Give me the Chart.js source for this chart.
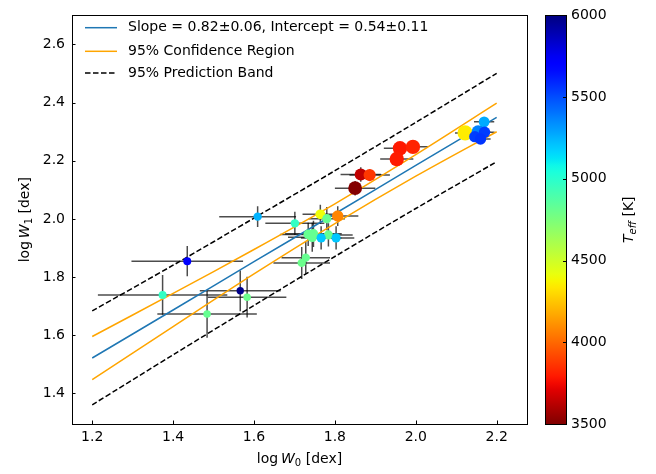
<!DOCTYPE html>
<html><head><meta charset="utf-8">
<script src="https://cdn.jsdelivr.net/npm/chart.js@4.4.1/dist/chart.umd.min.js"></script>
<style>html,body{margin:0;padding:0;background:#fff;}#wrap{width:656px;height:474px;}</style>
</head><body><div id="wrap"><canvas id="c" width="656" height="474"></canvas></div>
<script>
// ---- data ----
const logW0 = [1.435,1.374,1.484,1.566,1.583,1.609,1.701,1.764,1.780,1.807,1.734,1.747,1.744,1.784,1.766,1.803,1.728,1.718,1.961,1.993,1.953,1.864,1.886,1.850,2.122,2.169,2.154,2.170,2.146,2.160];
const logW1 = [1.855,1.739,1.673,1.753,1.731,2.008,1.985,2.016,2.001,2.010,1.947,1.949,1.937,1.945,1.935,1.935,1.867,1.849,2.243,2.248,2.206,2.153,2.151,2.106,2.296,2.334,2.300,2.298,2.283,2.275];
const errW0 = [0.138,0.160,0.123,0.100,0.097,0.095,0.073,0.044,0.045,0.051,0.070,0.070,0.060,0.060,0.050,0.045,0.060,0.070,0.040,0.037,0.041,0.050,0.050,0.050,0.025,0.025,0.030,0.025,0.025,0.025];
const errW1 = [0.052,0.068,0.081,0.070,0.070,0.036,0.040,0.033,0.040,0.034,0.040,0.045,0.050,0.040,0.040,0.040,0.055,0.055,0.018,0.018,0.018,0.025,0.020,0.025,0.015,0.015,0.015,0.015,0.015,0.015];
const teff  = [5710,4970,4815,5980,4800,5250,4970,4400,4815,4075,4815,4815,4815,4815,5200,5200,4815,4800,3790,3820,3800,3640,3870,3510,4350,5270,5370,5540,5540,5560];
const markerSize = [4.0,4.0,3.8,3.7,3.8,4.2,4.2,4.9,4.6,5.7,4.8,4.8,4.8,4.6,4.6,4.6,4.2,4.2,7.2,7.2,7.2,6.1,6.1,6.9,7.6,5.4,6.5,5.7,5.7,5.7];

const lineX     = [1.2,1.4,1.6,1.8,2.0,2.2];
const fitY      = [1.522,1.687,1.853,2.018,2.184,2.349];
const confUpper = [1.596,1.744,1.895,2.052,2.221,2.398];
const confLower = [1.448,1.630,1.811,1.984,2.147,2.300];
const predUpper = [1.684,1.841,2.003,2.166,2.332,2.501];
const predLower = [1.361,1.533,1.703,1.871,2.036,2.197];

const xTicks  = [1.2,1.4,1.6,1.8,2.0,2.2];
const yTicks  = [1.4,1.6,1.8,2.0,2.2,2.4,2.6];
const cbTicks = [3500,4000,4500,5000,5500,6000];
const cbMin = 3500, cbMax = 6000;
const legendLabels = ['Slope = 0.82\u00b10.06, Intercept = 0.54\u00b10.11','95% Confidence Region','95% Prediction Band'];

// ---- colormap (matplotlib jet, reversed) ----
const JET = {
  r:[[0,0],[0.35,0],[0.66,1],[0.89,1],[1,0.5]],
  g:[[0,0],[0.125,0],[0.375,1],[0.64,1],[0.91,0],[1,0]],
  b:[[0,0.5],[0.11,1],[0.34,1],[0.65,0],[1,0]]
};
function seg(arr,t){for(let i=1;i<arr.length;i++){if(t<=arr[i][0]){const a=arr[i-1],b=arr[i];return a[1]+(b[1]-a[1])*(t-a[0])/(b[0]-a[0]);}}return arr[arr.length-1][1];}
function jetR(T){let s=(cbMax-T)/(cbMax-cbMin);s=Math.max(0,Math.min(1,s));
  return 'rgb('+Math.round(255*seg(JET.r,s))+','+Math.round(255*seg(JET.g,s))+','+Math.round(255*seg(JET.b,s))+')';}

const FONT='DejaVu Sans';
const pts = logW0.map((x,i)=>({x, y:logW1[i]}));
const toXY = arr => lineX.map((x,i)=>({x, y:arr[i]}));

function drawRich(ctx, parts, x, y, rot){
  ctx.save(); ctx.translate(x,y); ctx.rotate(rot||0);
  ctx.textBaseline='middle'; ctx.fillStyle='#000';
  let total=0; const ws=[];
  parts.forEach(p=>{ctx.font=p.font; const w=ctx.measureText(p.t).width; ws.push(w); total+=w;});
  let cx=-total/2;
  parts.forEach((p,i)=>{ctx.font=p.font; ctx.textAlign='left'; ctx.fillText(p.t,cx,p.dy||0); cx+=ws[i];});
  ctx.restore();
}

const decor = {
  id:'decor',
  beforeDatasetsDraw(chart){
    const ctx=chart.ctx, xs=chart.scales.x, ys=chart.scales.y, a=chart.chartArea;
    ctx.save();
    ctx.beginPath(); ctx.rect(a.left,a.top,a.right-a.left,a.bottom-a.top); ctx.clip();
    ctx.strokeStyle='rgba(0,0,0,0.7)'; ctx.lineWidth=1.5;
    for(let i=0;i<logW0.length;i++){
      const px=xs.getPixelForValue(logW0[i]), py=ys.getPixelForValue(logW1[i]);
      const x1=xs.getPixelForValue(logW0[i]-errW0[i]), x2=xs.getPixelForValue(logW0[i]+errW0[i]);
      const y1=ys.getPixelForValue(logW1[i]-errW1[i]), y2=ys.getPixelForValue(logW1[i]+errW1[i]);
      ctx.beginPath(); ctx.moveTo(x1,py); ctx.lineTo(x2,py); ctx.moveTo(px,y1); ctx.lineTo(px,y2); ctx.stroke();
    }
    ctx.restore();
  },
  afterDraw(chart){
    const ctx=chart.ctx, xs=chart.scales.x, ys=chart.scales.y, a=chart.chartArea;
    ctx.save();
    // frame
    ctx.strokeStyle='#000'; ctx.lineWidth=1;
    ctx.strokeRect(Math.round(a.left)+0.5,Math.round(a.top)+0.5,Math.round(a.right-a.left),Math.round(a.bottom-a.top));
    // inward ticks
    ctx.beginPath();
    xTicks.forEach(v=>{const p=Math.round(xs.getPixelForValue(v))+0.5; ctx.moveTo(p,a.bottom); ctx.lineTo(p,a.bottom-3.5);});
    yTicks.forEach(v=>{const p=Math.round(ys.getPixelForValue(v))+0.5; ctx.moveTo(a.left,p); ctx.lineTo(a.left+3.5,p);});
    ctx.stroke();
    // colorbar
    const cbL=545.5, cbR=566.5, cbT=a.top, cbB=a.bottom;
    const g=ctx.createLinearGradient(0,cbB,0,cbT);
    for(let k=0;k<=60;k++){const T=cbMin+(cbMax-cbMin)*k/60; g.addColorStop(k/60,jetR(T));}
    ctx.fillStyle=g; ctx.fillRect(cbL,cbT,cbR-cbL,cbB-cbT);
    ctx.strokeStyle='#000'; ctx.lineWidth=1; ctx.strokeRect(cbL,Math.round(cbT)+0.5,cbR-cbL,Math.round(cbB-cbT));
    ctx.font='14px "'+FONT+'"'; ctx.fillStyle='#000'; ctx.textAlign='left'; ctx.textBaseline='middle';
    cbTicks.forEach(v=>{
      const p=cbB-(v-cbMin)/(cbMax-cbMin)*(cbB-cbT);
      const pr=Math.round(p)+0.5;
      ctx.beginPath(); ctx.moveTo(cbR,pr); ctx.lineTo(cbR-3.5,pr); ctx.stroke();
      ctx.fillText(String(v),571,p);
    });
    // colorbar title
    drawRich(ctx,[
      {t:'T',font:'italic 14px "'+FONT+'"'},
      {t:'eff',font:'italic 10px "'+FONT+'"',dy:4},
      {t:' [K]',font:'14px "'+FONT+'"'}
    ],629,(cbT+cbB)/2,-Math.PI/2);
    // axis titles
    drawRich(ctx,[
      {t:'log\u2009',font:'14px "'+FONT+'"'},
      {t:'W',font:'italic 14px "'+FONT+'"'},
      {t:'0',font:'10px "'+FONT+'"',dy:4},
      {t:' [dex]',font:'14px "'+FONT+'"'}
    ],(a.left+a.right)/2,459,0);
    drawRich(ctx,[
      {t:'log\u2009',font:'14px "'+FONT+'"'},
      {t:'W',font:'italic 14px "'+FONT+'"'},
      {t:'1',font:'10px "'+FONT+'"',dy:4},
      {t:' [dex]',font:'14px "'+FONT+'"'}
    ],25,(a.top+a.bottom)/2,-Math.PI/2);
    // legend
    const rows=[27.7,51.3,73];
    const styles=[{c:'#1f77b4',d:[]},{c:'#ffa500',d:[]},{c:'#000',d:[5.5,2.5]}];
    rows.forEach((ry,i)=>{
      ctx.strokeStyle=styles[i].c; ctx.lineWidth=1.5; ctx.setLineDash(styles[i].d);
      ctx.beginPath(); ctx.moveTo(85,ry); ctx.lineTo(117,ry); ctx.stroke(); ctx.setLineDash([]);
      ctx.font='14px "'+FONT+'"'; ctx.fillStyle='#000'; ctx.textAlign='left'; ctx.textBaseline='middle';
      ctx.fillText(legendLabels[i],128,ry);
    });
    ctx.restore();
  }
};

const lineDs = (label,arr,color,dash)=>({type:'scatter',label,data:toXY(arr),showLine:true,borderColor:color,backgroundColor:color,borderWidth:1.5,borderDash:dash||[],pointRadius:0,pointHoverRadius:0,tension:0.3,order:1});

new Chart(document.getElementById('c'),{
  type:'scatter',
  data:{datasets:[
    {label:'stars',data:pts,pointRadius:markerSize,pointHoverRadius:markerSize,pointBackgroundColor:teff.map(jetR),pointBorderWidth:0,borderWidth:0,order:0},
    lineDs(legendLabels[0],fitY,'#1f77b4'),
    lineDs(legendLabels[1],confUpper,'#ffa500'),
    lineDs(legendLabels[1]+' ',confLower,'#ffa500'),
    lineDs(legendLabels[2],predUpper,'#000',[5.5,2.5]),
    lineDs(legendLabels[2]+' ',predLower,'#000',[5.5,2.5])
  ]},
  options:{
    responsive:false, animation:false, devicePixelRatio:1,
    layout:{padding:{left:0,top:8,right:129,bottom:0}},
    plugins:{legend:{display:false},tooltip:{enabled:false}},
    scales:{
      x:{type:'linear',min:1.15,max:2.275,
        afterBuildTicks:s=>{s.ticks=xTicks.map(v=>({value:v}));},
        afterFit:s=>{s.height=50;},
        ticks:{font:{family:FONT,size:14},color:'#000',padding:5,maxRotation:0,autoSkip:false,callback:v=>Number(v).toFixed(1)},
        grid:{display:true,drawOnChartArea:false,drawTicks:false},
        border:{display:true,color:'#000',width:1}},
      y:{type:'linear',min:1.295,max:2.70,
        afterBuildTicks:s=>{s.ticks=yTicks.map(v=>({value:v}));},
        afterFit:s=>{s.width=72;},
        ticks:{font:{family:FONT,size:14},color:'#000',padding:7,autoSkip:false,callback:v=>Number(v).toFixed(1)},
        grid:{display:true,drawOnChartArea:false,drawTicks:false},
        border:{display:true,color:'#000',width:1}}
    }
  },
  plugins:[decor]
});
</script></body></html>
